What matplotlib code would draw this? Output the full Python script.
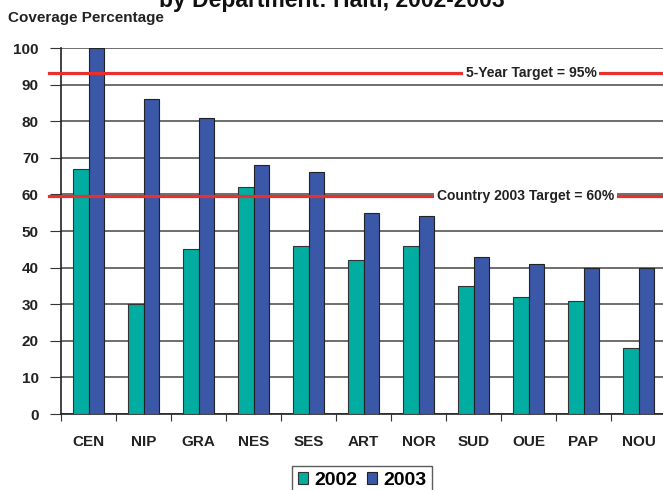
import numpy as np
import matplotlib
matplotlib.use("Agg")
from matplotlib import pyplot as plt

plt.rcParams['font.family'] = ['Liberation Sans', 'DejaVu Sans']
plt.rcParams['font.weight'] = 'bold'

departments = ["CEN", "NIP", "GRA", "NES", "SES", "ART", "NOR", "SUD", "OUE", "PAP", "NOU"]
cov_2002 = [67, 30, 45, 62, 46, 42, 46, 35, 32, 31, 18]
cov_2003 = [100, 86, 81, 68, 66, 55, 54, 43, 41, 40, 40]
target_5yr = 93.3      # drawn level of the "95%" line in the source
target_country = 59.6  # drawn level of the "60%" line

teal = "#00ada0"
blue = "#3b57a7"
red = "#e8312f"

fig = plt.figure(figsize=(6.63, 4.9), dpi=100)
ax = fig.add_axes([61/663, 76/490, 605/663, 366/490])

x = np.arange(len(departments))
w = 0.29
ax.bar(x - w/2, cov_2002, w, color=teal, edgecolor="#333333", linewidth=0.8, label="2002", zorder=3)
ax.bar(x + w/2, cov_2003, w, color=blue, edgecolor="#222222", linewidth=0.8, label="2003", zorder=3)

ax.axhline(target_5yr, color=red, linewidth=2.3, zorder=4, xmin=-0.02, clip_on=False)
ax.axhline(target_country, color=red, linewidth=2.3, zorder=4, xmin=-0.02, clip_on=False)
ax.text(8.05, target_5yr, "5-Year Target = 95%", ha="center", va="center", fontsize=10,
        fontweight="bold", color="#222222", zorder=5,
        bbox=dict(facecolor="white", edgecolor="none", pad=2))
ax.text(7.95, target_country, "Country 2003 Target = 60%", ha="center", va="center", fontsize=10,
        fontweight="bold", color="#222222", zorder=5,
        bbox=dict(facecolor="white", edgecolor="none", pad=2))

ax.set_xlim(-0.5, len(departments) - 0.5)
ax.set_ylim(0, 100)
ax.set_yticks(range(0, 101, 10))
ax.set_xticks(np.arange(-0.5, len(departments), 1.0))
ax.set_xticklabels([])
ax.set_xticks(x, minor=True)
ax.set_xticklabels(departments, minor=True)
ax.tick_params(axis="x", which="minor", length=0, pad=15, labelsize=11)
ax.tick_params(axis="x", which="major", length=5, direction="out", color="#333333")
ax.tick_params(axis="y", length=8, direction="out", labelsize=11, pad=8, color="#333333")
for lab in ax.get_xticklabels(minor=True) + ax.get_yticklabels():
    lab.set_fontweight("bold")
    lab.set_color("#222222")

ax.grid(axis="y", color="#555555", linewidth=1.2, zorder=0)
ax.spines["top"].set_visible(False)
ax.spines["right"].set_visible(False)
ax.spines["left"].set_color("#222222")
ax.spines["bottom"].set_color("#222222")
ax.spines["left"].set_linewidth(1.2)
ax.spines["bottom"].set_linewidth(1.2)

leg = ax.legend(loc="upper center", bbox_to_anchor=((362 - 61)/605, -52/366), ncol=2, frameon=True,
                fancybox=False, edgecolor="#333333", fontsize=14, handlelength=0.55,
                handleheight=0.55, handletextpad=0.3, columnspacing=0.5, borderpad=0.3,
                borderaxespad=0)
for t in leg.get_texts():
    t.set_fontweight("bold")

fig.text(0.5, 1.0, "by Department: Haiti, 2002-2003", ha="center", va="center",
         fontsize=16.5, fontweight="bold", color="#111111")
fig.text(8/663, 1 - 18/490, "Coverage Percentage", ha="left", va="center",
         fontsize=11, fontweight="bold", color="#222222")

fig.savefig("out.png", dpi=100)
